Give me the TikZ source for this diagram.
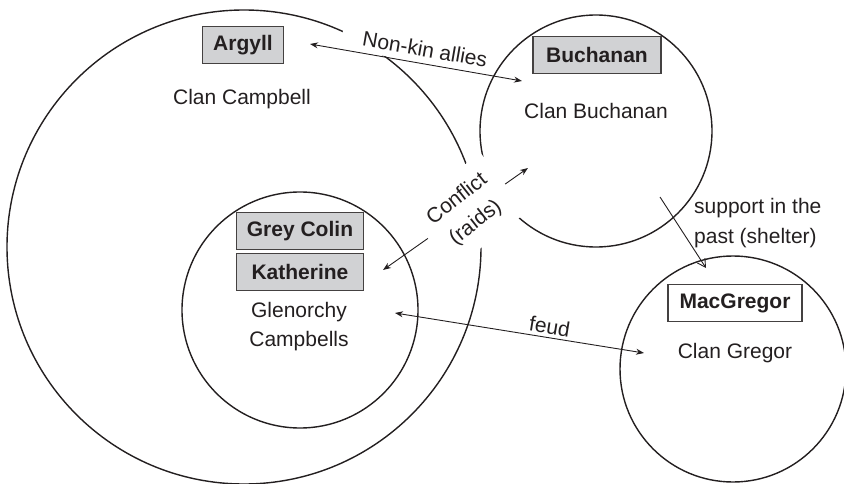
\documentclass[tikz,border=0pt]{standalone}
\usepackage{fontspec}
\setmainfont{Liberation Sans}
\usetikzlibrary{arrows.meta}
\definecolor{ink}{RGB}{35,31,32}
\definecolor{boxgray}{RGB}{209,210,212}
\begin{document}
\begin{tikzpicture}[x=1pt,y=-1pt,
  font=\fontsize{21pt}{29pt}\selectfont,
  ring/.style={circle, draw=ink, line width=1.4pt, inner sep=0pt},
  namebox/.style={draw=ink!85, line width=1.1pt, fill=boxgray, text=ink,
    font=\fontsize{21pt}{29pt}\selectfont\bfseries, minimum height=37pt, inner sep=0pt},
  clantext/.style={text=ink, align=center, inner sep=0pt},
  lbl/.style={text=ink, inner sep=0pt},
  link/.style={draw=ink, line width=0.9pt, {Stealth[length=8pt,width=6pt]}-{Stealth[length=8pt,width=6pt]}},
  oneway/.style={draw=ink, line width=0.9pt, -{Straight Barb[length=8pt,width=9pt]}}]
\useasboundingbox (0,0) rectangle (844,484);
% circles
\node[ring, minimum size=474pt] (campbell) at (244,247) {};
\node[ring, minimum size=236pt] (glen) at (300,310) {};
\node[ring, minimum size=232pt] (buch) at (596,131) {};
\node[ring, minimum size=226pt] (greg) at (733,369) {};
% boxes and texts
\node[namebox, minimum width=81pt] (argyll) at (243,45) {Argyll};
\node[clantext] (ccampbell) at (242,99) {Clan Campbell};
\node[namebox, minimum width=127pt] (grey) at (300,231) {Grey Colin};
\node[namebox, minimum width=127pt] (kath) at (300,272) {Katherine};
\node[clantext] (glentext) at (299,327) {Glenorchy\\Campbells};
\node[namebox, minimum width=128pt] (buchbox) at (597,55) {Buchanan};
\node[clantext] (cbuch) at (596,111) {Clan Buchanan};
\node[namebox, fill=white, minimum width=134pt] (macg) at (735,303) {MacGregor};
\node[clantext] (cgreg) at (735,353) {Clan Gregor};
% connector ends
\coordinate (nkA) at (310,44);
\coordinate (nkB) at (522,81);
\coordinate (cfK) at (383,270);
\coordinate (cfB) at (528,168);
\coordinate (fdG) at (395,313);
\coordinate (fdM) at (644,353);
\coordinate (spB) at (660,197);
\coordinate (spM) at (706,268);
% connectors
\draw[link] (nkA) -- node[pos=0.489, sloped, above=0.6pt, fill=white, text=ink,
  inner xsep=3pt, inner ysep=6pt] (nklabel) {\hspace*{18pt}Non-kin allies} (nkB);
\draw[link] (cfK) -- node[pos=0.576, sloped, rotate=3, fill=white, text=ink, align=center,
  font=\fontsize{21pt}{30pt}\selectfont, inner xsep=12pt, inner ysep=13pt] (cflabel) {Conflict\\(raids)} (cfB);
\draw[link] (fdG) -- node[pos=0.614, sloped, above, text=ink] (fdlabel) {feud} (fdM);
\draw[oneway] (spB) -- (spM);
\node[lbl, align=left, anchor=west, font=\fontsize{21pt}{30pt}\selectfont] (sptext) at (694,223) {support in the\\past (shelter)};
\end{tikzpicture}
\end{document}
